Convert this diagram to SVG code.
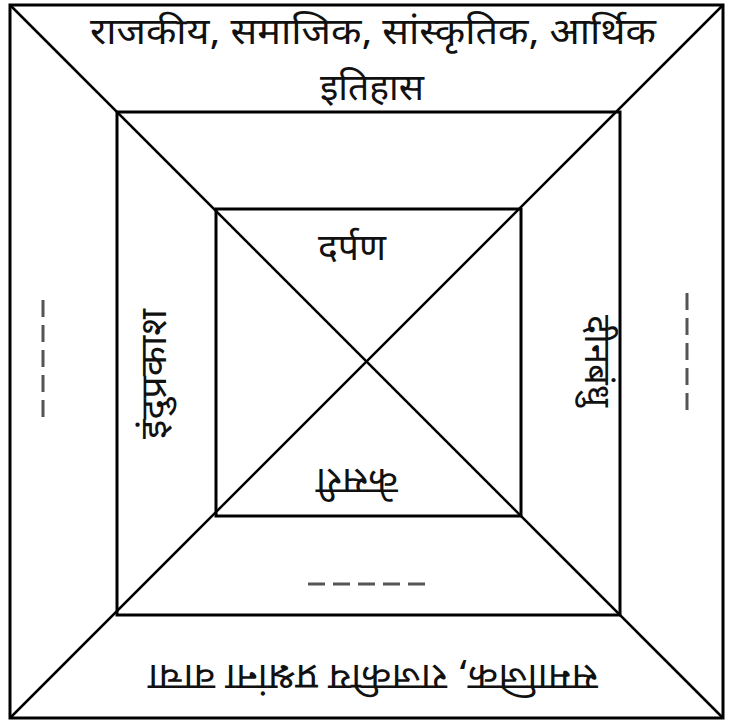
<svg xmlns="http://www.w3.org/2000/svg" width="729" height="724" viewBox="0 0 729 724">
<style>
.frame{fill:none;stroke:#000;stroke-width:3}
.diag{stroke:#000;stroke-width:2.5;fill:none}
.t{font-family:"Noto Sans Devanagari","Lohit Devanagari","Noto Sans","FreeSans",sans-serif;font-size:36px;fill:#111;text-anchor:middle}
.dash{stroke:#555;stroke-width:3;stroke-dasharray:17 8;fill:none}
</style>
<rect width="729" height="724" fill="#fff"/>
<g id="connectors">
<line class="diag" x1="10" y1="5" x2="723" y2="718"/>
<line class="diag" x1="723" y1="5" x2="10" y2="718"/>
</g>
<g id="outer"><rect class="frame" x="10" y="5" width="713" height="713"/></g>
<g id="middle"><rect class="frame" x="117" y="112" width="503" height="503"/></g>
<g id="inner"><rect class="frame" x="216" y="209" width="305" height="307"/></g>
<g id="top-label">
<text class="t" x="373" y="44" textLength="566" lengthAdjust="spacingAndGlyphs">राजकीय, समाजिक, सांस्कृतिक, आर्थिक</text>
<text class="t" x="372" y="100" textLength="104" lengthAdjust="spacingAndGlyphs">इतिहास</text>
</g>
<g id="bottom-label">
<text class="t" transform="translate(373,665) rotate(180)" textLength="450" lengthAdjust="spacingAndGlyphs">समाजिक, राजकीय प्रश्नांना वाचा</text>
</g>
<g id="left-blank"><line class="dash" x1="43" y1="300" x2="43" y2="421"/></g>
<g id="right-blank"><line class="dash" x1="687" y1="293" x2="687" y2="414"/></g>
<g id="bottom-blank"><line class="dash" x1="308" y1="584" x2="428" y2="584"/></g>
<g id="darpan"><text class="t" x="352" y="260" textLength="68" lengthAdjust="spacingAndGlyphs">दर्पण</text></g>
<g id="indraprakash"><text class="t" transform="translate(166,374) rotate(-90)" textLength="130" lengthAdjust="spacingAndGlyphs">इंदुप्रकाश</text></g>
<g id="dinabandhu"><text class="t" transform="translate(585,361) rotate(90)" textLength="92" lengthAdjust="spacingAndGlyphs">दीनबंधु</text></g>
<g id="kesari"><text class="t" transform="translate(357,469) rotate(180)" textLength="82" lengthAdjust="spacingAndGlyphs">केसरी</text></g>
</svg>
